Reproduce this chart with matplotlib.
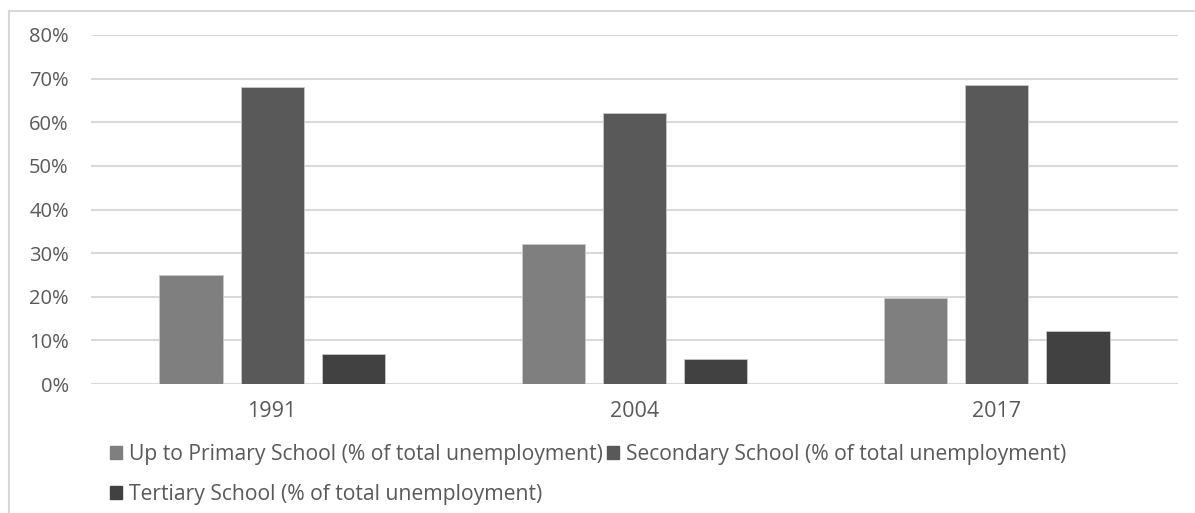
import numpy as np
import matplotlib
matplotlib.use('Agg')
import matplotlib.pyplot as plt
from matplotlib.lines import Line2D
from matplotlib.patches import Patch

plt.rcParams['font.family'] = ['Open Sans', 'DejaVu Sans']

years = ['1991', '2004', '2017']
series_names = [
    'Up to Primary School (% of total unemployment)',
    'Secondary School (% of total unemployment)',
    'Tertiary School (% of total unemployment)',
]
primary = [25.0, 32.1, 19.7]
secondary = [68.0, 62.2, 68.6]
tertiary = [6.9, 5.7, 12.2]
colors = ['#7f7f7f', '#595959', '#414141']
text_color = '#595959'
grid_color = '#d9d9d9'

fig = plt.figure(figsize=(11.95, 5.13), dpi=100)
ax = fig.add_axes([91 / 1195, 1 - 384 / 513, (1178 - 91) / 1195, (384 - 35) / 513])

x = np.arange(len(years))
width = 0.174
offsets = [-0.224, 0, 0.224]
for vals, off, c in zip([primary, secondary, tertiary], offsets, colors):
    ax.bar(x + off, vals, width, color=c, edgecolor='#c8c8c8', linewidth=0.6, zorder=3)

ax.set_xlim(-0.5, 2.5)
ax.set_ylim(0, 80)
yt = np.arange(0, 81, 10)
ax.set_yticks(yt)
ax.set_yticklabels([f'{v}%' for v in yt])
ax.set_xticks(x)
ax.set_xticklabels(years)
ax.tick_params(axis='y', length=0, labelsize=14.5, colors=text_color, pad=16)
ax.tick_params(axis='x', length=0, labelsize=15.5, colors=text_color, pad=12)
ax.yaxis.grid(True, color=grid_color, linewidth=1.5, zorder=0)
for s in ax.spines.values():
    s.set_visible(False)

# outer chart border (top and left visible)
fig.add_artist(Line2D([9 / 1195, 1.0], [1 - 11 / 513, 1 - 11 / 513], color=grid_color, linewidth=1.5))
fig.add_artist(Line2D([9 / 1195, 9 / 1195], [0, 1 - 11 / 513], color=grid_color, linewidth=1.5))

handles = [Patch(color=c) for c in colors]
order = [0, 2, 1]
fig.legend([handles[i] for i in order], [series_names[i] for i in order],
           ncol=2, loc='upper left', bbox_to_anchor=(110 / 1195, 1 - 444 / 513),
           frameon=False, fontsize=15.2, labelcolor=text_color,
           handlelength=0.55, handleheight=0.55, handletextpad=0.35,
           columnspacing=0.2, labelspacing=0.9, borderaxespad=0, borderpad=0)

fig.savefig('out.png', dpi=100)
